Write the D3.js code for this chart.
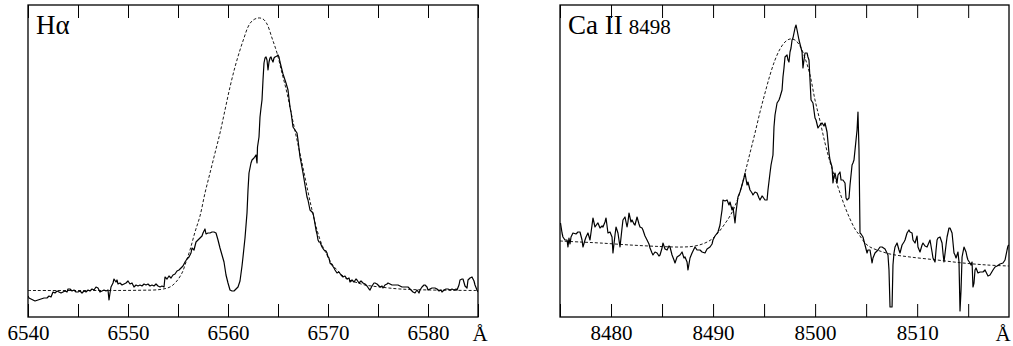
<!DOCTYPE html>
<html><head><meta charset="utf-8">
<script src="https://cdn.jsdelivr.net/npm/d3@7"></script>
<style>
html,body{margin:0;padding:0;background:#fff;}
svg{display:block;}
svg text{font-family:"Liberation Serif","DejaVu Serif",serif !important;fill:#000;}
</style></head>
<body><svg id="chart" width="1013" height="346"></svg>
<script>
// ---------- DATA ----------
const haTitle = "Hα";
const caTitle = "Ca II";
const caSub = "8498";
const unitLabel = "Å";
const haTicks = [6540,6545,6550,6555,6560,6565,6570,6575,6580,6585];
const haLabels = [6540,6550,6560,6570,6580];
const caTicks = [8475,8480,8485,8490,8495,8500,8505,8510,8515];
const caLabels = [8480,8490,8500,8510];

// H-alpha observed profile [wavelength Å, relative flux]
const haObserved = [[6540.0,0.980],[6540.1,0.972],[6540.3,0.968],[6540.5,0.964],[6540.7,0.960],[6541.0,0.964],[6541.3,0.968],[6541.6,0.972],[6541.9,0.972],[6542.1,0.980],[6542.3,0.976],[6542.5,0.996],[6542.7,0.992],[6542.9,1.000],[6543.1,0.996],[6543.3,0.992],[6543.5,0.996],[6543.7,1.000],[6543.9,0.996],[6544.0,1.008],[6544.2,1.008],[6544.4,1.000],[6544.6,1.004],[6544.8,0.996],[6545.0,0.996],[6545.2,1.000],[6545.4,0.992],[6545.6,1.000],[6545.8,0.996],[6546.0,1.004],[6546.2,1.000],[6546.4,1.008],[6546.6,1.004],[6546.8,1.016],[6547.0,1.012],[6547.2,0.996],[6547.4,1.000],[6547.6,1.004],[6547.8,1.000],[6548.0,1.004],[6548.1,0.964],[6548.2,0.992],[6548.3,1.016],[6548.5,1.032],[6548.6,1.048],[6548.8,1.036],[6548.9,1.044],[6549.0,1.028],[6549.2,1.032],[6549.4,1.024],[6549.6,1.028],[6549.8,1.032],[6550.0,1.040],[6550.2,1.028],[6550.4,1.032],[6550.6,1.016],[6550.8,1.024],[6551.0,1.020],[6551.2,1.024],[6551.4,1.020],[6551.6,1.028],[6551.8,1.024],[6552.0,1.028],[6552.2,1.020],[6552.4,1.024],[6552.6,1.020],[6552.8,1.028],[6553.0,1.020],[6553.2,1.016],[6553.4,1.020],[6553.6,1.016],[6553.7,1.056],[6553.9,1.048],[6554.1,1.060],[6554.3,1.052],[6554.5,1.064],[6554.7,1.068],[6554.9,1.080],[6555.1,1.084],[6555.3,1.092],[6555.5,1.100],[6555.7,1.116],[6555.9,1.128],[6556.1,1.136],[6556.3,1.152],[6556.4,1.172],[6556.6,1.164],[6556.8,1.196],[6557.0,1.204],[6557.2,1.212],[6557.4,1.220],[6557.5,1.232],[6557.7,1.248],[6557.8,1.228],[6558.0,1.232],[6558.2,1.232],[6558.4,1.236],[6558.6,1.236],[6558.8,1.232],[6559.0,1.204],[6559.2,1.172],[6559.4,1.144],[6559.6,1.116],[6559.8,1.064],[6560.0,1.032],[6560.2,1.004],[6560.4,1.000],[6560.6,1.000],[6560.8,1.008],[6561.0,1.016],[6561.2,1.040],[6561.4,1.100],[6561.5,1.136],[6561.7,1.212],[6561.9,1.312],[6562.0,1.404],[6562.1,1.472],[6562.3,1.512],[6562.4,1.524],[6562.6,1.532],[6562.8,1.544],[6562.9,1.512],[6562.95,1.576],[6563.1,1.616],[6563.2,1.696],[6563.3,1.732],[6563.4,1.764],[6563.5,1.844],[6563.6,1.912],[6563.7,1.932],[6563.8,1.936],[6563.9,1.924],[6564.0,1.884],[6564.1,1.916],[6564.2,1.932],[6564.3,1.936],[6564.4,1.924],[6564.5,1.916],[6564.6,1.932],[6564.7,1.936],[6564.9,1.940],[6565.0,1.944],[6565.1,1.936],[6565.2,1.916],[6565.3,1.900],[6565.4,1.884],[6565.5,1.868],[6565.7,1.844],[6565.8,1.832],[6566.0,1.804],[6566.2,1.736],[6566.3,1.716],[6566.5,1.656],[6566.7,1.644],[6566.9,1.632],[6567.0,1.604],[6567.2,1.536],[6567.3,1.516],[6567.5,1.472],[6567.7,1.424],[6567.9,1.376],[6568.0,1.364],[6568.2,1.324],[6568.4,1.316],[6568.5,1.312],[6568.6,1.292],[6568.8,1.244],[6568.9,1.228],[6569.0,1.204],[6569.1,1.196],[6569.2,1.196],[6569.4,1.176],[6569.6,1.164],[6569.8,1.160],[6569.9,1.152],[6570.0,1.136],[6570.1,1.132],[6570.2,1.112],[6570.4,1.104],[6570.6,1.092],[6570.7,1.084],[6570.9,1.072],[6571.1,1.076],[6571.3,1.064],[6571.5,1.056],[6571.7,1.060],[6571.9,1.048],[6572.1,1.052],[6572.2,1.036],[6572.4,1.044],[6572.6,1.036],[6572.8,1.048],[6572.9,1.044],[6573.1,1.032],[6573.3,1.040],[6573.5,1.032],[6573.7,1.028],[6573.9,1.020],[6574.1,1.008],[6574.2,1.004],[6574.4,1.020],[6574.6,1.032],[6574.7,1.032],[6574.9,1.028],[6575.0,1.024],[6575.2,1.016],[6575.4,1.020],[6575.5,1.012],[6575.7,1.024],[6575.9,1.028],[6576.0,1.032],[6576.2,1.028],[6576.4,1.024],[6577.0,1.024],[6577.2,1.020],[6577.4,1.016],[6578.0,1.016],[6578.2,1.008],[6578.4,1.000],[6578.5,0.996],[6578.7,0.992],[6578.9,1.004],[6579.1,0.992],[6579.2,1.004],[6579.4,1.016],[6579.6,1.024],[6579.7,1.024],[6579.9,1.016],[6580.0,1.004],[6580.2,1.008],[6580.4,1.012],[6580.7,1.012],[6580.9,1.008],[6581.1,1.000],[6581.3,1.004],[6581.4,0.996],[6581.6,1.004],[6581.8,1.008],[6582.0,1.008],[6582.2,1.004],[6582.4,1.008],[6582.6,1.004],[6582.8,1.008],[6582.9,1.004],[6583.1,1.024],[6583.2,1.044],[6583.4,1.048],[6583.5,1.048],[6583.7,1.020],[6583.9,1.012],[6584.0,1.044],[6584.2,1.052],[6584.4,1.056],[6584.6,1.040],[6584.7,1.024],[6584.9,1.004],[6585.0,0.996]];

// H-alpha fitted profile (dashed)
const haFit = [[6540.0,1.002],[6547.2,1.002],[6551.2,1.003],[6553.2,1.006],[6554.2,1.016],[6554.8,1.036],[6555.4,1.072],[6555.8,1.116],[6556.2,1.164],[6556.7,1.236],[6557.2,1.300],[6557.7,1.392],[6558.2,1.472],[6558.7,1.552],[6559.2,1.632],[6559.7,1.724],[6560.2,1.816],[6560.7,1.896],[6561.2,1.964],[6561.6,2.012],[6562.0,2.056],[6562.4,2.080],[6563.0,2.092],[6563.5,2.088],[6563.9,2.068],[6564.4,2.012],[6564.9,1.952],[6565.4,1.872],[6565.9,1.792],[6566.4,1.696],[6566.9,1.604],[6567.4,1.512],[6567.9,1.416],[6568.4,1.324],[6568.9,1.244],[6569.4,1.184],[6569.9,1.144],[6570.4,1.108],[6570.9,1.084],[6571.4,1.064],[6571.9,1.048],[6572.7,1.036],[6573.7,1.024],[6575.2,1.016],[6577.2,1.008],[6580.2,1.004],[6585.0,1.002]];

// Ca II 8498 observed profile
const caObserved = [[8475.05,1.072],[8475.20,1.032],[8475.29,1.016],[8475.49,1.004],[8475.69,1.004],[8475.78,0.976],[8475.88,1.012],[8475.98,0.988],[8476.08,1.016],[8476.27,1.032],[8476.57,1.028],[8476.76,1.036],[8476.96,1.036],[8477.16,1.004],[8477.25,0.976],[8477.45,1.004],[8477.55,1.016],[8477.74,1.032],[8477.94,1.004],[8478.14,1.064],[8478.23,1.092],[8478.43,1.056],[8478.63,1.068],[8478.72,1.072],[8478.92,1.052],[8479.12,1.060],[8479.21,1.056],[8479.41,1.076],[8479.51,1.092],[8479.70,1.032],[8479.90,1.036],[8480.10,1.016],[8480.19,0.952],[8480.39,1.024],[8480.49,1.056],[8480.68,1.032],[8480.78,1.004],[8480.88,0.976],[8481.08,1.052],[8481.17,1.084],[8481.37,1.096],[8481.57,1.056],[8481.66,1.076],[8481.76,1.112],[8481.96,1.076],[8482.06,1.084],[8482.25,1.068],[8482.35,1.064],[8482.55,1.096],[8482.74,1.068],[8482.84,1.056],[8483.04,1.052],[8483.13,1.044],[8483.33,1.020],[8483.53,1.004],[8483.72,0.988],[8483.82,0.972],[8484.02,0.952],[8484.11,0.944],[8484.31,0.956],[8484.51,0.952],[8484.70,0.940],[8484.80,0.944],[8485.00,0.972],[8485.09,0.992],[8485.29,0.968],[8485.49,0.964],[8485.68,0.980],[8485.78,0.976],[8485.98,0.944],[8486.17,0.924],[8486.27,0.912],[8486.47,0.936],[8486.76,0.944],[8486.96,0.956],[8487.15,0.932],[8487.25,0.936],[8487.45,0.916],[8487.54,0.884],[8487.74,0.932],[8487.94,0.952],[8488.13,0.968],[8488.23,0.976],[8488.43,0.964],[8488.72,0.964],[8488.92,0.956],[8489.21,0.952],[8489.41,0.968],[8489.70,0.976],[8489.90,0.988],[8489.99,1.004],[8490.19,1.020],[8490.48,1.036],[8490.68,1.064],[8490.78,1.096],[8490.88,1.124],[8490.97,1.164],[8491.17,1.160],[8491.37,1.164],[8491.56,1.144],[8491.66,1.156],[8491.86,1.124],[8491.95,1.136],[8492.15,1.072],[8492.25,1.116],[8492.44,1.176],[8492.64,1.196],[8492.84,1.224],[8493.03,1.252],[8493.13,1.272],[8493.33,1.224],[8493.42,1.236],[8493.62,1.204],[8493.82,1.192],[8493.91,1.184],[8494.11,1.196],[8494.31,1.192],[8494.50,1.172],[8494.60,1.164],[8494.80,1.180],[8494.89,1.176],[8495.09,1.164],[8495.29,1.164],[8495.38,1.204],[8495.58,1.272],[8495.68,1.304],[8495.87,1.344],[8495.97,1.456],[8496.07,1.504],[8496.27,1.552],[8496.46,1.564],[8496.56,1.576],[8496.76,1.604],[8496.85,1.656],[8496.95,1.692],[8497.05,1.736],[8497.25,1.744],[8497.34,1.724],[8497.44,1.716],[8497.54,1.756],[8497.64,1.772],[8497.74,1.804],[8497.83,1.812],[8498.03,1.852],[8498.13,1.864],[8498.23,1.844],[8498.42,1.804],[8498.62,1.772],[8498.72,1.756],[8498.81,1.692],[8498.91,1.724],[8499.01,1.752],[8499.21,1.752],[8499.30,1.736],[8499.40,1.724],[8499.50,1.644],[8499.60,1.564],[8499.79,1.552],[8499.99,1.492],[8500.09,1.484],[8500.28,1.452],[8500.48,1.464],[8500.68,1.472],[8500.87,1.460],[8500.97,1.472],[8501.17,1.436],[8501.36,1.352],[8501.46,1.324],[8501.66,1.296],[8501.75,1.232],[8501.85,1.260],[8501.95,1.272],[8502.15,1.232],[8502.24,1.264],[8502.44,1.276],[8502.54,1.244],[8502.73,1.244],[8502.93,1.232],[8503.03,1.172],[8503.13,1.164],[8503.32,1.172],[8503.42,1.224],[8503.62,1.304],[8503.71,1.312],[8503.81,1.324],[8504.01,1.404],[8504.11,1.444],[8504.20,1.516],[8504.30,1.364],[8504.40,1.032],[8504.50,1.028],[8504.69,1.016],[8504.89,0.984],[8505.09,0.952],[8505.18,0.964],[8505.38,0.964],[8505.58,0.912],[8505.67,0.932],[8505.87,0.952],[8506.16,0.964],[8506.36,0.976],[8506.56,0.976],[8506.85,0.968],[8507.14,0.944],[8507.24,0.884],[8507.34,0.736],[8507.54,0.736],[8507.63,0.904],[8507.73,0.952],[8507.83,0.976],[8508.03,0.992],[8508.22,0.964],[8508.32,0.952],[8508.52,0.984],[8508.71,0.996],[8508.81,1.004],[8509.01,1.032],[8509.20,1.044],[8509.30,1.036],[8509.50,1.032],[8509.59,1.004],[8509.79,0.992],[8509.99,1.020],[8510.08,0.976],[8510.28,0.956],[8510.48,0.984],[8510.57,0.992],[8510.77,0.980],[8510.97,0.976],[8511.26,1.004],[8511.46,0.956],[8511.55,0.932],[8511.75,0.916],[8511.85,0.964],[8511.95,1.004],[8512.04,1.012],[8512.24,1.016],[8512.44,0.992],[8512.53,0.952],[8512.63,0.916],[8512.83,0.984],[8512.93,1.016],[8513.12,1.052],[8513.22,1.052],[8513.42,1.032],[8513.61,0.952],[8513.71,0.944],[8513.81,0.932],[8514.00,0.956],[8514.10,0.916],[8514.20,0.720],[8514.30,0.804],[8514.40,0.936],[8514.59,0.976],[8514.79,0.956],[8514.89,0.936],[8514.98,0.924],[8515.18,0.912],[8515.28,0.904],[8515.38,0.916],[8515.47,0.816],[8515.57,0.832],[8515.67,0.884],[8515.77,0.892],[8515.96,0.872],[8516.16,0.876],[8516.45,0.876],[8516.65,0.884],[8516.94,0.860],[8517.14,0.864],[8517.43,0.884],[8517.63,0.896],[8517.83,0.900],[8518.12,0.908],[8518.41,0.912],[8518.61,0.924],[8518.81,0.964],[8518.90,0.980],[8519.00,0.984]];

// Ca II fitted profile (dashed)
const caFit = [[8475.00,1.000],[8476.96,0.996],[8478.92,0.992],[8481.86,0.984],[8484.80,0.978],[8487.05,0.976],[8488.23,0.980],[8489.21,0.992],[8489.90,1.008],[8490.48,1.032],[8491.07,1.064],[8491.66,1.100],[8492.15,1.140],[8492.64,1.196],[8493.13,1.272],[8493.62,1.352],[8494.11,1.432],[8494.60,1.516],[8495.09,1.592],[8495.58,1.664],[8496.07,1.724],[8496.56,1.768],[8497.05,1.796],[8497.54,1.808],[8498.03,1.804],[8498.52,1.780],[8499.01,1.732],[8499.50,1.664],[8499.99,1.564],[8500.48,1.480],[8500.97,1.392],[8501.46,1.316],[8501.95,1.252],[8502.44,1.192],[8502.93,1.136],[8503.42,1.088],[8503.91,1.048],[8504.40,1.020],[8504.89,0.992],[8505.38,0.976],[8506.07,0.964],[8507.34,0.948],[8509.30,0.936],[8511.95,0.924],[8514.49,0.912],[8516.85,0.904],[8519.00,0.900]];

// ---------- DRAW ----------
const svg = d3.select("#chart");
const plotTop = 5, plotBottom = 317;
const serif = '"Liberation Serif","DejaVu Serif",serif';

function panel(cfg){
  const x = d3.scaleLinear().domain(cfg.xDomain).range([cfg.left, cfg.right]);
  const y = d3.scaleLinear().domain(cfg.yDomain).range([plotBottom, plotTop]);
  const g = svg.append("g");
  const clipId = "clip" + cfg.id;
  svg.append("clipPath").attr("id", clipId).append("rect")
    .attr("x", cfg.left).attr("y", plotTop).attr("width", cfg.right - cfg.left).attr("height", plotBottom - plotTop);

  const line = d3.line().x(d => x(d[0])).y(d => y(d[1]));
  const smooth = d3.line().x(d => x(d[0])).y(d => y(d[1])).curve(d3.curveCatmullRom.alpha(0.5));

  const plot = g.append("g").attr("clip-path", `url(#${clipId})`);
  plot.append("path").datum(cfg.fit).attr("d", smooth)
    .attr("fill","none").attr("stroke","#000").attr("stroke-width",0.9).attr("stroke-dasharray","3,2");
  plot.append("path").datum(cfg.obs).attr("d", line)
    .attr("fill","none").attr("stroke","#000").attr("stroke-width",1.2).attr("stroke-linejoin","round");

  const fmt = d => cfg.labels.includes(d) ? String(d) : "";
  const axB = g.append("g").attr("transform", `translate(0,${plotBottom})`)
    .call(d3.axisBottom(x).tickValues(cfg.ticks).tickSizeInner(-13).tickSizeOuter(0).tickPadding(8.5).tickFormat(fmt));
  const axT = g.append("g").attr("transform", `translate(0,${plotTop})`)
    .call(d3.axisTop(x).tickValues(cfg.ticks).tickSizeInner(-13).tickSizeOuter(0).tickFormat(() => ""));
  [axB, axT].forEach(a => {
    a.attr("font-family", serif);
    a.select(".domain").remove();
    a.selectAll(".tick line").attr("stroke","#000").attr("stroke-width",1);
  });
  axB.attr("font-size", 21);
  axB.selectAll(".tick text").attr("fill","#000");

  g.append("rect").attr("x", cfg.left).attr("y", plotTop)
    .attr("width", cfg.right - cfg.left).attr("height", plotBottom - plotTop)
    .attr("fill","none").attr("stroke","#000").attr("stroke-width",1.3);

  g.append("text").attr("x", cfg.unitX).attr("y", 340.5).attr("text-anchor","middle")
    .attr("font-family", serif).attr("font-size", 21).text(unitLabel);

  const t = g.append("text").attr("x", cfg.left + 8).attr("y", 34)
    .attr("font-family", serif).attr("font-size", 27);
  t.append("tspan").text(cfg.title);
  if (cfg.sub) t.append("tspan").attr("dx", 6).attr("font-size", 21).text(cfg.sub);
}

panel({id:"ha", left:28, right:478, xDomain:[6540,6585], yDomain:[0.896,2.144],
  ticks:haTicks, labels:haLabels, obs:haObserved, fit:haFit, title:haTitle, unitX:480});
panel({id:"ca", left:560, right:1009, xDomain:[8475,8519], yDomain:[0.696,1.944],
  ticks:caTicks, labels:caLabels, obs:caObserved, fit:caFit, title:caTitle, sub:caSub, unitX:1003});
</script>
</body></html>
